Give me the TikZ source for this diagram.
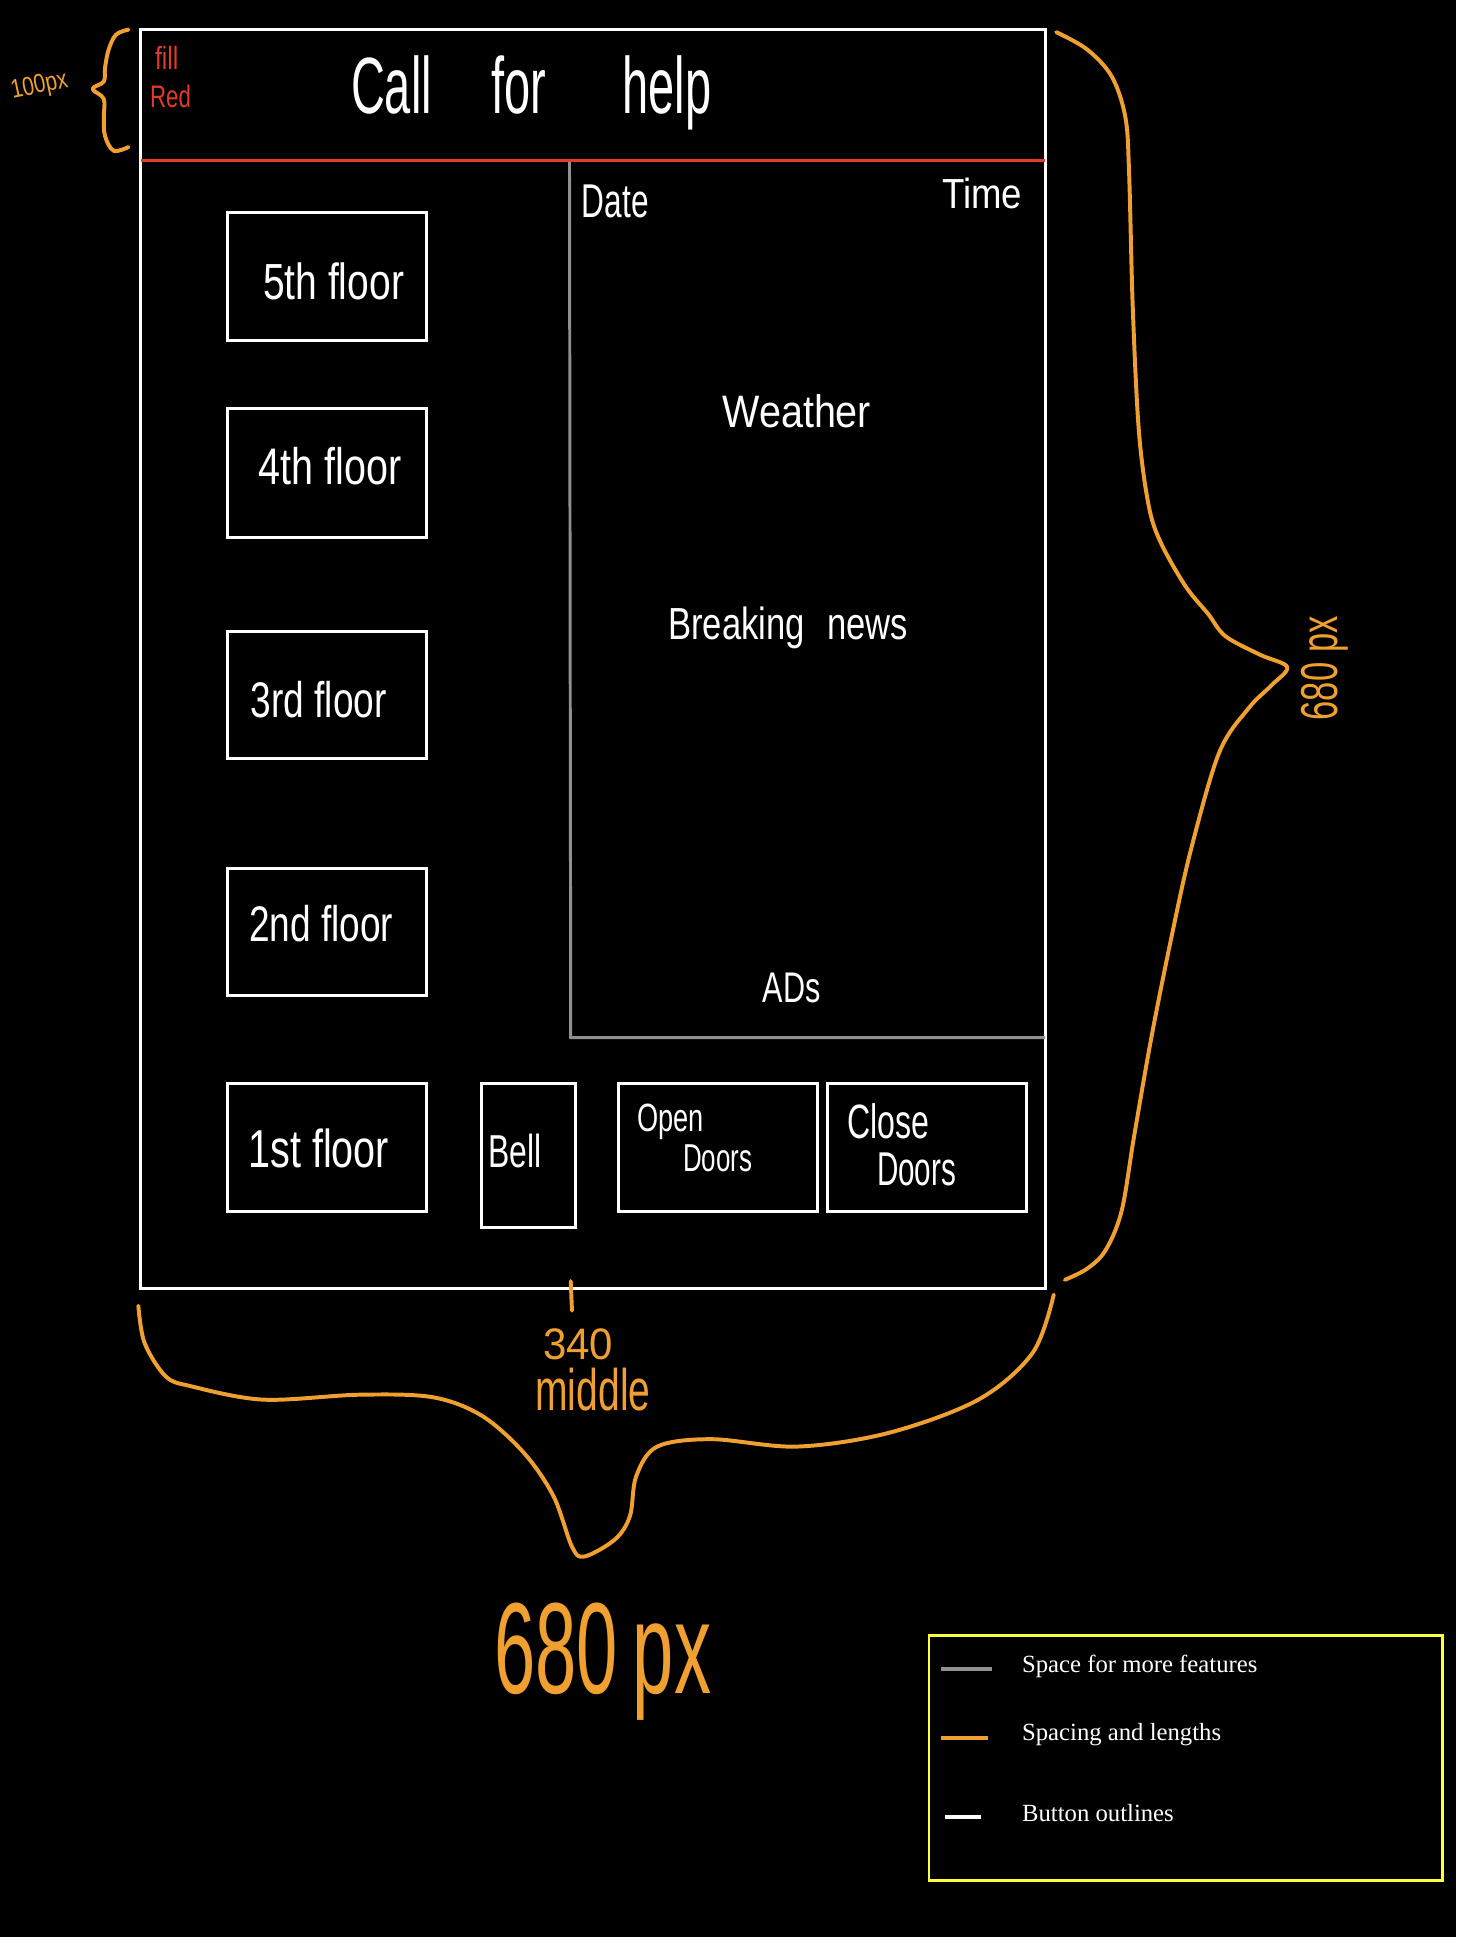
\documentclass[tikz,border=0pt]{standalone}
\usepackage{fontspec}
\usepackage{graphicx}
\setmainfont{Liberation Serif}
\newfontfamily\hwf{Liberation Sans}
\newcommand{\hw}[3]{\scalebox{1}[#1]{\hwf\fontsize{#2}{#2}\selectfont #3}}
\definecolor{sorange}{HTML}{F0A030}
\definecolor{sred}{HTML}{E03C28}
\definecolor{sgray}{HTML}{909090}
\definecolor{syellow}{HTML}{FFFF40}
\tikzset{
  outline/.style={draw=white, line width=1.25pt},
  feature/.style={draw=sgray, line width=1.2pt},
  spacing/.style={draw=sorange, line width=1.6pt, line cap=round, line join=round},
  wtext/.style={text=white, inner sep=0pt},
  otext/.style={text=sorange, inner sep=0pt},
  rtext/.style={text=sred, inner sep=0pt},
  legtext/.style={text=white, inner sep=0pt, anchor=west, font=\fontsize{10}{12}\selectfont}
}
\begin{document}
\begin{tikzpicture}[x=0.5pt,y=-0.5pt]
\fill[black] (0,0) rectangle (1179,1568);
\useasboundingbox (0,0) rectangle (1179,1568);

% main frame
\draw[outline] (114,24) rectangle (846,1043);
% header separator
\draw[draw=sred, line width=1.5pt] (114,130) -- (846,130);
% space for more features panel
\draw[feature] (461,131) -- (462,840) -- (846,840);

% header texts
\node[wtext] (title) at (430,75) {\hw{1.7}{19}{Call\hspace{24pt}for\hspace{31pt}help}};
\node[rtext] (fill) at (135,47) {\hw{1.3}{10}{fill}};
\node[rtext] (red) at (138,78) {\hw{1.4}{9}{Red}};

% panel texts
\node[wtext] (date) at (498,163) {\hw{1.5}{12.8}{Date}};
\node[wtext] (time) at (795,157) {\hw{1.15}{14.8}{Time}};
\node[wtext] (weather) at (645,333) {\hw{1.15}{16}{Weather}};
\node[wtext] (news) at (638,508) {\hw{1.3}{14}{Breaking\hspace{9pt}news}};
\node[wtext] (ads) at (641,800) {\hw{1.4}{12.4}{ADs}};

% buttons
\draw[outline] (184,172) rectangle (345,276);
\draw[outline] (184,331) rectangle (345,435);
\draw[outline] (184,511) rectangle (345,614);
\draw[outline] (184,703) rectangle (345,806);
\draw[outline] (184,877) rectangle (345,981);
\draw[outline] (390,877) rectangle (466,994);
\draw[outline] (501,877) rectangle (662,981);
\draw[outline] (670,877) rectangle (831,981);

\node[wtext] (f5) at (270,228) {\hw{1.3}{15.8}{5th floor}};
\node[wtext] (f4) at (267,377) {\hw{1.3}{16}{4th floor}};
\node[wtext] (f3) at (258,566) {\hw{1.35}{15}{3rd floor}};
\node[wtext] (f2) at (260,748) {\hw{1.35}{15}{2nd floor}};
\node[wtext] (f1) at (258,930) {\hw{1.35}{16}{1st floor}};
\node[wtext] (bell) at (417,932) {\hw{1.45}{12.9}{Bell}};
\node[wtext] (open1) at (543,908) {\hw{1.45}{11}{Open}};
\node[wtext] (open2) at (581,938) {\hw{1.5}{10.5}{Doors}};
\node[wtext] (close1) at (719,908) {\hw{1.5}{13}{Close}};
\node[wtext] (close2) at (742,947) {\hw{1.6}{12}{Doors}};

% left small brace (100px)
\draw[spacing] plot[smooth, tension=0.6] coordinates {(104,24) (94,28) (88,40) (85,55) (84,66) (75,72) (84,80) (84,95) (85,110) (92,122) (104,119)};
\node[otext, rotate=12] (h100) at (32,70) {\hw{1.25}{8.5}{100px}};

% right big brace (680 px)
\draw[spacing] plot[smooth, tension=0.55] coordinates {(855,26) (880,40) (900,62) (911,95) (914,140) (917,250) (922,350) (930,410) (940,440) (960,475) (978,497) (992,515) (1020,530) (1042,540) (1029,555) (1011,573) (987,609) (964,688) (948,760) (932,840) (918,920) (908,980) (895,1012) (880,1027) (862,1036)};
\node[otext, rotate=90] (v680) at (1072,541) {\hw{1.5}{14}{680 px}};

% bottom big brace (680px)
\draw[spacing] plot[smooth, tension=0.55] coordinates {(112,1057) (117,1087) (134,1114) (154,1122) (213,1133) (291,1129) (350,1131) (390,1146) (424,1176) (448,1211) (463,1252) (473,1260) (498,1246) (510,1227) (515,1195) (532,1171) (576,1165) (645,1171) (719,1160) (792,1133) (836,1095) (853,1048)};
\draw[spacing] (462,1037) -- (463,1061);
\node[otext] (mid340) at (468,1088) {\hw{1.05}{17}{340}};
\node[otext] (middle) at (480,1125) {\hw{1.5}{15.8}{middle}};
\node[otext] (h680) at (488,1345) {\hw{1.75}{30}{680\hspace{6pt}px}};

% legend
\draw[draw=syellow, line width=1.2pt] (752,1324) rectangle (1168,1522);
\draw[draw=sgray, line width=1.5pt] (762,1351) -- (803,1351);
\draw[draw=sorange, line width=1.5pt] (762,1407) -- (800,1407);
\draw[draw=white, line width=1.5pt] (765,1471) -- (794,1471);
\node[legtext] (l1) at (827,1349) {Space for more features};
\node[legtext] (l2) at (827,1404) {Spacing and lengths};
\node[legtext] (l3) at (827,1468) {Button outlines};
\end{tikzpicture}
\end{document}
